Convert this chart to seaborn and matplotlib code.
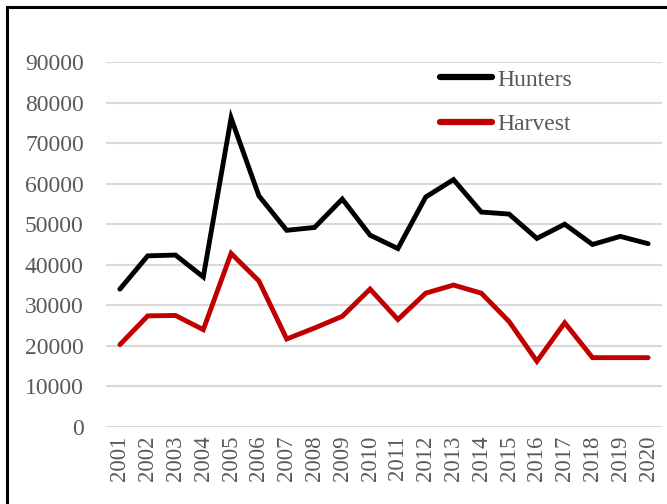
import numpy as np
import pandas as pd
import matplotlib
matplotlib.use("Agg")
import matplotlib.pyplot as plt
import seaborn as sns
from matplotlib.patches import Rectangle

YEARS   = [str(y) for y in range(2001, 2021)]
HUNTERS = [34000, 42200, 42400, 37000, 76200, 57000, 48500, 49200, 56200, 47300,
           44000, 56700, 61000, 53000, 52500, 46500, 50000, 45000, 47000, 45200]
HARVEST = [20300, 27400, 27500, 24000, 42800, 36000, 21700, 24400, 27300, 34000,
           26500, 33000, 35000, 33000, 26000, 16200, 25700, 17100, 17100, 17100]
SERIES  = ["Hunters", "Harvest"]
COLORS  = {"Hunters": "#000000", "Harvest": "#c00000"}
YTICKS  = list(range(0, 90001, 10000))

TXT, GRID = "#595959", "#d9d9d9"

df = pd.DataFrame({
    "year":   YEARS * 2,
    "value":  HUNTERS + HARVEST,
    "series": ["Hunters"] * len(YEARS) + ["Harvest"] * len(YEARS),
})

sns.set_style("white")
plt.rcParams["font.family"] = ["Liberation Serif", "DejaVu Serif"]

W, H = 667, 504
fig = plt.figure(figsize=(W / 100, H / 100), dpi=100)
ax = fig.add_axes([106 / W, 1 - 427 / H, (662 - 106) / W, (427 - 62) / H])

sns.lineplot(data=df, x="year", y="value", hue="series", hue_order=SERIES,
             palette=COLORS, lw=3.5, ax=ax, sort=False, legend=True,
             solid_capstyle="round", solid_joinstyle="miter")

ax.set_xlim(-0.5, len(YEARS) - 0.5)
ax.set_ylim(0, 90000)
ax.set_yticks(YTICKS)
ax.set_yticklabels([str(v) for v in YTICKS])
ax.set_xlabel("")
ax.set_ylabel("")
for s in ax.spines.values():
    s.set_visible(False)
ax.yaxis.grid(True, color=GRID, lw=1.5)
ax.set_axisbelow(True)
ax.tick_params(axis="y", length=0, pad=16, labelsize=17, labelcolor=TXT)
ax.tick_params(axis="x", length=0, pad=6, labelsize=16.5, labelcolor=TXT,
               labelrotation=90)

handles, labels = ax.get_legend_handles_labels()
for h in handles:
    h.set_linewidth(4.5)
    h.set_solid_capstyle("round")
ax.legend(handles, labels, loc="upper left",
          bbox_to_anchor=(440 / W, 1 - 69 / H), bbox_transform=fig.transFigure,
          frameon=False, fontsize=17, labelcolor=TXT, handlelength=2.2,
          handletextpad=0.25, labelspacing=0.98, borderpad=0, borderaxespad=0)

# outer chart frame
fig.patches.append(Rectangle((7 / W, -0.1), 1.2, 1 - 7 / H + 0.1,
                             transform=fig.transFigure, fill=False,
                             edgecolor="black", lw=2.2))

plt.savefig("out.png", dpi=100, facecolor="white")
plt.close()
